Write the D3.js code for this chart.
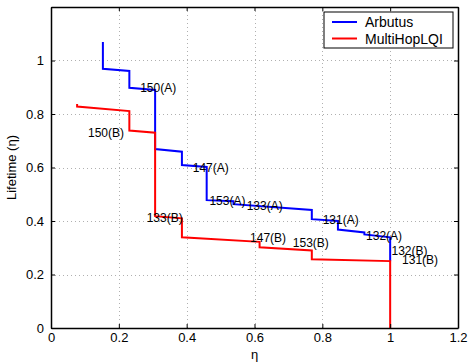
<!DOCTYPE html>
<html>
<head>
<meta charset="utf-8">
<script src="https://cdn.jsdelivr.net/npm/d3@7"></script>
<style>
  html, body { margin: 0; padding: 0; background: #fff; }
  svg { display: block; font-family: "Liberation Sans", Arial, Helvetica, sans-serif; }
</style>
</head>
<body>
<div id="chart"></div>
<script>
// step curves: [eta, lifetime]
const arbutusX = [0.153, 0.153, 0.231, 0.231, 0.307, 0.307, 0.386, 0.386, 0.459, 0.459, 0.538, 0.538, 0.769, 0.769, 0.846, 0.846, 0.924, 0.924, 1.0, 1.0];
const arbutusY = [1.069, 0.969, 0.961, 0.898, 0.890, 0.669, 0.659, 0.609, 0.602, 0.478, 0.474, 0.463, 0.441, 0.407, 0.400, 0.368, 0.357, 0.350, 0.339, 0.250];
const lqiX = [0.077, 0.077, 0.231, 0.231, 0.307, 0.307, 0.386, 0.386, 0.615, 0.615, 0.769, 0.769, 1.0, 1.0];
const lqiY = [0.837, 0.828, 0.811, 0.738, 0.730, 0.418, 0.410, 0.339, 0.322, 0.302, 0.290, 0.257, 0.250, 0.0];

const seriesNames = ['Arbutus', 'MultiHopLQI'];
const seriesColors = ['#0000ff', '#ff0000'];

// node annotations
const noteText = ['150(A)', '150(B)', '147(A)', '153(A)', '133(A)', '133(B)', '147(B)', '153(B)', '131(A)', '132(A)', '132(B)', '131(B)'];
const noteX = [0.263, 0.109, 0.418, 0.467, 0.577, 0.282, 0.587, 0.713, 0.801, 0.929, 1.004, 1.035];
const noteY = [0.898, 0.729, 0.598, 0.476, 0.456, 0.413, 0.339, 0.320, 0.403, 0.343, 0.288, 0.256];

const xTicks = [0, 0.2, 0.4, 0.6, 0.8, 1, 1.2];
const yTicks = [0, 0.2, 0.4, 0.6, 0.8, 1];

const W = 469, H = 362;
const m = { top: 7, right: 11, bottom: 34, left: 51 };
const iw = W - m.left - m.right, ih = H - m.top - m.bottom;

const svg = d3.select('#chart').append('svg').attr('width', W).attr('height', H);
const g = svg.append('g').attr('transform', `translate(${m.left},${m.top})`);

const x = d3.scaleLinear().domain([0, 1.2]).range([0, iw]);
const y = d3.scaleLinear().domain([0, 1.2]).range([ih, 0]);

// grid
const grid = g.append('g').attr('stroke', '#b0b0b0').attr('stroke-width', 1).attr('stroke-dasharray', '1,3');
grid.selectAll('line.gx').data(xTicks.slice(1, -1)).join('line')
  .attr('x1', d => Math.round(x(d)) + 0.5).attr('x2', d => Math.round(x(d)) + 0.5)
  .attr('y1', 0).attr('y2', ih);
grid.selectAll('line.gy').data(yTicks.slice(1)).join('line')
  .attr('y1', d => Math.round(y(d)) + 0.5).attr('y2', d => Math.round(y(d)) + 0.5)
  .attr('x1', 0).attr('x2', iw);

// curves
const line = d3.line().x(d => x(d[0])).y(d => y(d[1]));
const curves = [d3.zip(arbutusX, arbutusY), d3.zip(lqiX, lqiY)];
g.selectAll('path.curve').data(curves).join('path')
  .attr('class', 'curve')
  .attr('fill', 'none')
  .attr('stroke', (d, i) => seriesColors[i])
  .attr('stroke-width', 2)
  .attr('d', line);

// annotations
g.selectAll('text.note').data(noteText).join('text')
  .attr('class', 'note')
  .attr('x', (d, i) => x(noteX[i]))
  .attr('y', (d, i) => y(noteY[i]))
  .attr('dy', '0.35em')
  .style('font-size', '12px')
  .attr('fill', '#000')
  .text(d => d);

// axes: box with inward ticks
const axB = g.append('g').attr('transform', `translate(0,${ih})`)
  .call(d3.axisBottom(x).tickValues(xTicks).tickSizeInner(-4).tickSizeOuter(0).tickPadding(5).tickFormat(d3.format('')));
const axL = g.append('g')
  .call(d3.axisLeft(y).tickValues(yTicks).tickSizeInner(-4).tickSizeOuter(0).tickPadding(7).tickFormat(d3.format('')));
const axT = g.append('g')
  .call(d3.axisTop(x).tickValues(xTicks).tickSizeInner(-4).tickSizeOuter(0).tickFormat(''));
const axR = g.append('g').attr('transform', `translate(${iw},0)`)
  .call(d3.axisRight(y).tickValues(yTicks.concat([1.2])).tickSizeInner(-4).tickSizeOuter(0).tickFormat(''));
[axB, axL, axT, axR].forEach(a => {
  a.select('.domain').attr('stroke', '#000').attr('stroke-width', 1.5);
  a.selectAll('.tick line').attr('stroke', '#000');
  a.selectAll('text').style('font-size', '13px').attr('fill', '#000')
    .style('font-family', '"Liberation Sans", Arial, sans-serif');
});

// axis titles
svg.append('text')
  .attr('x', m.left + iw / 2).attr('y', H - 3)
  .attr('text-anchor', 'middle').style('font-size', '13px').text('η');
svg.append('text')
  .attr('transform', `translate(16,${m.top + ih / 2}) rotate(-90)`)
  .attr('text-anchor', 'middle').style('font-size', '13px').text('Lifetime (η)');

// legend
const lg = svg.append('g').attr('transform', 'translate(324,12)');
lg.append('rect').attr('width', 129).attr('height', 36)
  .attr('fill', '#fff').attr('stroke', '#000').attr('stroke-width', 1);
const item = lg.selectAll('g.item').data(seriesNames).join('g')
  .attr('transform', (d, i) => `translate(0,${10 + i * 16.5})`);
item.append('line').attr('x1', 8).attr('x2', 33)
  .attr('stroke', (d, i) => seriesColors[i]).attr('stroke-width', 2);
item.append('text').attr('x', 41).attr('dy', '0.36em')
  .style('font-size', '14px').text(d => d);
</script>
</body>
</html>
